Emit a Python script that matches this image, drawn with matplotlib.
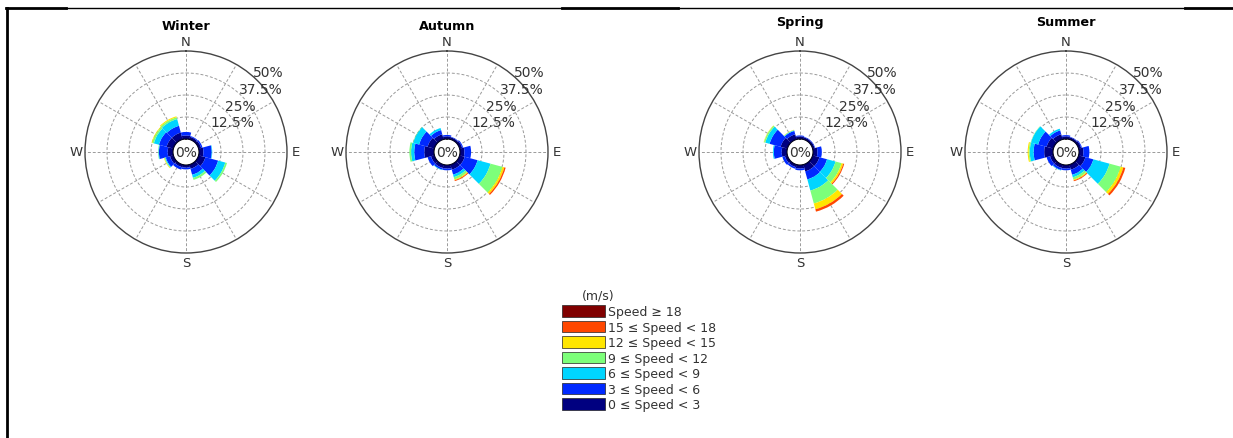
"""
Seasonal wind roses (frequency % by direction and speed class)
"""

import numpy as np
import matplotlib.pyplot as plt
from matplotlib.patches import Patch
from matplotlib.lines import Line2D

# compass direction of each sector (deg, clockwise from north), 30 deg wide
directions = [0, 30, 60, 90, 120, 150, 180, 210, 240, 270, 300, 330]
speed_labels = [
    "0 \u2264 Speed < 3",
    "3 \u2264 Speed < 6",
    "6 \u2264 Speed < 9",
    "9 \u2264 Speed < 12",
    "12 \u2264 Speed < 15",
    "15 \u2264 Speed < 18",
    "Speed \u2265 18",
]
ring_values = [12.5, 25, 37.5, 50]
ring_labels = ["12.5%", "25%", "37.5%", "50%"]
seasons = ["Winter", "Autumn", "Spring", "Summer"]

# frequency (%) per sector, one column per speed class (0-3 ... >=18)
winter = [
    [2.0, 2.0, 0.0, 0.0, 0.0, 0.0, 0.0],
    [1.5, 0.5, 0.0, 0.0, 0.0, 0.0, 0.0],
    [1.5, 0.8, 0.0, 0.0, 0.0, 0.0, 0.0],
    [2.5, 4.7, 0.3, 0.0, 0.0, 0.0, 0.0],
    [4.0, 7.5, 4.2, 1.0, 0.0, 0.0, 0.0],
    [2.5, 3.5, 1.8, 1.2, 0.0, 0.0, 0.0],
    [1.5, 1.0, 0.0, 0.0, 0.0, 0.0, 0.0],
    [1.5, 1.5, 0.0, 0.0, 0.0, 0.0, 0.0],
    [2.0, 2.5, 0.5, 0.3, 0.3, 0.0, 0.0],
    [3.0, 5.0, 0.3, 0.2, 0.0, 0.0, 0.0],
    [4.0, 4.5, 3.0, 1.0, 0.4, 0.0, 0.0],
    [4.0, 4.0, 4.0, 1.0, 0.6, 0.0, 0.0],
]
autumn = [
    [1.5, 0.8, 0.0, 0.0, 0.0, 0.0, 0.0],
    [1.2, 0.3, 0.0, 0.0, 0.0, 0.0, 0.0],
    [1.5, 0.6, 0.0, 0.0, 0.0, 0.0, 0.0],
    [2.5, 3.8, 0.0, 0.0, 0.0, 0.0, 0.0],
    [3.0, 7.6, 7.6, 7.0, 1.1, 0.8, 0.0],
    [3.0, 2.9, 1.5, 1.3, 0.5, 0.5, 0.0],
    [2.0, 1.0, 0.0, 0.0, 0.0, 0.0, 0.0],
    [2.0, 1.0, 0.3, 0.0, 0.0, 0.0, 0.0],
    [2.0, 2.0, 0.0, 0.0, 0.0, 0.0, 0.0],
    [5.5, 5.7, 1.8, 1.0, 0.0, 0.0, 0.0],
    [4.0, 5.0, 3.5, 0.2, 0.0, 0.0, 0.0],
    [3.0, 2.5, 1.2, 0.0, 0.0, 0.0, 0.0],
]
spring = [
    [1.5, 0.5, 0.0, 0.0, 0.0, 0.0, 0.0],
    [1.2, 0.3, 0.0, 0.0, 0.0, 0.0, 0.0],
    [1.2, 0.3, 0.0, 0.0, 0.0, 0.0, 0.0],
    [2.5, 2.5, 0.0, 0.0, 0.0, 0.0, 0.0],
    [4.0, 4.5, 5.0, 3.5, 1.0, 0.6, 0.0],
    [4.0, 4.7, 6.6, 7.6, 3.4, 1.4, 0.0],
    [2.0, 1.0, 0.0, 0.0, 0.0, 0.0, 0.0],
    [1.5, 1.0, 0.0, 0.0, 0.0, 0.0, 0.0],
    [1.5, 1.5, 0.0, 0.0, 0.0, 0.0, 0.0],
    [3.0, 4.5, 0.5, 0.0, 0.0, 0.0, 0.0],
    [4.0, 6.5, 2.5, 0.8, 0.2, 0.0, 0.0],
    [3.0, 2.0, 0.4, 0.1, 0.2, 0.0, 0.0],
]
summer = [
    [1.5, 0.7, 0.0, 0.0, 0.0, 0.0, 0.0],
    [1.2, 0.3, 0.0, 0.0, 0.0, 0.0, 0.0],
    [1.5, 0.5, 0.0, 0.0, 0.0, 0.0, 0.0],
    [2.5, 3.4, 0.0, 0.0, 0.0, 0.0, 0.0],
    [4.0, 4.7, 9.5, 6.6, 1.5, 1.2, 0.0],
    [3.0, 3.0, 1.5, 1.3, 0.5, 0.5, 0.0],
    [2.0, 1.0, 0.0, 0.0, 0.0, 0.0, 0.0],
    [2.0, 1.2, 0.3, 0.0, 0.0, 0.0, 0.0],
    [2.0, 2.0, 0.0, 0.0, 0.0, 0.0, 0.0],
    [5.0, 6.0, 2.2, 0.6, 0.6, 0.0, 0.0],
    [4.0, 5.0, 4.2, 0.2, 0.0, 0.0, 0.0],
    [3.0, 2.3, 1.0, 0.0, 0.0, 0.0, 0.0],
]
season_data = [winter, autumn, spring, summer]

W, H = 1233, 439
CENTERS = [(186, 153), (447, 153), (800, 153), (1066, 153)]
TITLE_Y = [1.125, 1.125, 1.148, 1.148]
RADIUS = 101
HOLE = 7.4  # empty centre, in % units

colors = plt.get_cmap("jet")(np.linspace(0, 1, 7))
grid_kw = dict(color="#9a9a9a", lw=0.7, ls=(0, (3, 2)), zorder=1)
TXT = "#333333"


def draw_rose(ax, data, title, title_y):
    data = np.asarray(data)
    theta = np.radians(directions)
    width = np.radians(30)
    ax.set_theta_zero_location("N")
    ax.set_theta_direction(-1)
    ax.set_rorigin(-HOLE)
    ax.set_ylim(0, 50)
    ax.grid(False)
    ax.set_xticks([])
    ax.set_yticks([])
    for name in ("start", "end", "inner"):
        if name in ax.spines:
            ax.spines[name].set_visible(False)
    ax.spines["polar"].set_color("#444444")
    ax.spines["polar"].set_linewidth(1.0)

    circ = np.linspace(0, 2 * np.pi, 361)
    for r in ring_values[:-1]:
        ax.plot(circ, np.full_like(circ, r), **grid_kw)
    for d in directions:
        t = np.radians(d)
        ax.plot([t, t], [0, 50], **grid_kw)

    bottom = np.zeros(len(directions))
    for k in range(data.shape[1]):
        ax.bar(theta, data[:, k], width=width, bottom=bottom,
               color=colors[k], edgecolor="none", zorder=2)
        bottom += data[:, k]

    ax.plot(circ, np.zeros_like(circ), color="#000050", lw=1.6, zorder=3)

    for r, lab in zip(ring_values, ring_labels):
        ax.text(np.radians(40), r + 2.0, lab, ha="left", va="center",
                fontsize=10, color=TXT, zorder=4)
    ax.text(0.5, 0.5, "0%", transform=ax.transAxes, ha="center",
            va="center", fontsize=10, color=TXT, zorder=4)

    off = 0.545
    for lab, (x, y) in zip("NESW", [(0.5, 0.5 + off), (0.5 + off, 0.5),
                                    (0.5, 0.5 - off), (0.5 - off, 0.5)]):
        ax.text(x, y, lab, transform=ax.transAxes, ha="center",
                va="center", fontsize=9.5, color=TXT)
    ax.text(0.5, title_y, title, transform=ax.transAxes, ha="center",
            va="center", fontsize=9.2, fontweight="bold")


def main():
    fig = plt.figure(figsize=(W / 100, H / 100), dpi=100)

    for (cx, cy), name, data, ty in zip(CENTERS, seasons, season_data, TITLE_Y):
        rect = [(cx - RADIUS) / W, (H - cy - RADIUS) / H,
                2 * RADIUS / W, 2 * RADIUS / H]
        ax = fig.add_axes(rect, projection="polar")
        draw_rose(ax, data, name, ty)

    handles = [Patch(facecolor=colors[k], edgecolor="#222222", lw=0.5,
                     label=speed_labels[k]) for k in range(6, -1, -1)]
    fig.legend(handles=handles, loc="upper left",
               bbox_to_anchor=(562 / W, 1 - 306 / H), frameon=False,
               fontsize=9, handlelength=3.45, handleheight=1.05,
               handletextpad=0.25, labelspacing=0.2, borderpad=0,
               borderaxespad=0, labelcolor=TXT)
    fig.text(598 / W, 1 - 296 / H, "(m/s)", ha="center", va="center",
             fontsize=9, color=TXT)

    # frame lines around the panel
    thick, thin = 2.0, 1.0
    for x0, x1, lw in [(6, 66, thick), (66, 562, thin), (562, 678, thick),
                       (678, 1185, thin), (1185, 1233, thick)]:
        fig.add_artist(Line2D([x0 / W, x1 / W], [1 - 8.5 / H] * 2,
                              color="black", lw=lw))
    fig.add_artist(Line2D([6.5 / W] * 2, [0, 1 - 8.5 / H],
                          color="black", lw=thick))

    fig.savefig("out.png", dpi=100)
    plt.close(fig)


if __name__ == "__main__":
    main()
